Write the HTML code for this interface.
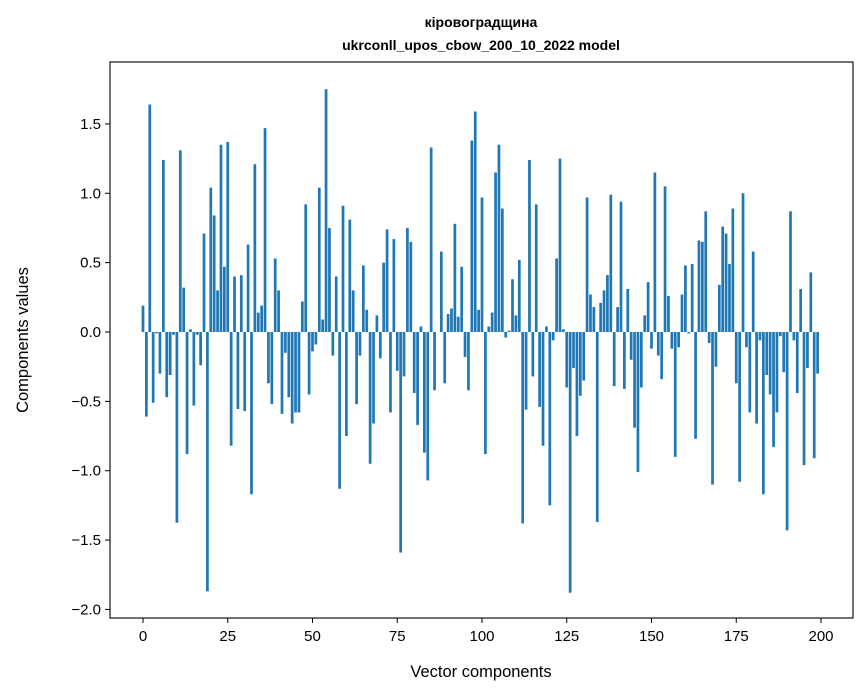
<!DOCTYPE html>
<html><head><meta charset="utf-8"><style>body{margin:0;background:#fff}svg{display:block;font-family:"Liberation Sans","DejaVu Sans",sans-serif}</style></head>
<body>
<svg id="chart" width="867" height="696">
<rect width="867" height="696" fill="#fff"/>
<text x="481" y="27" text-anchor="middle" font-size="14" font-weight="bold">кіровоградщина</text>
<text x="481" y="50" text-anchor="middle" font-size="14" font-weight="bold">ukrconll_upos_cbow_200_10_2022 model</text>
<g id="bars"></g>
<g id="axes"></g>
<text x="481" y="677" text-anchor="middle" font-size="16.5">Vector components</text>
<text transform="translate(28,340) rotate(-90)" text-anchor="middle" font-size="16.5">Components values</text>
</svg>
<script>
const values = [0.19,-0.61,1.64,-0.51,-0.01,-0.30,1.24,-0.47,-0.31,-0.02,
-1.375,1.31,0.32,-0.88,0.02,-0.53,-0.02,-0.24,0.71,-1.87,
1.04,0.84,0.30,1.35,0.47,1.37,-0.82,0.40,-0.555,0.41,
-0.57,0.63,-1.17,1.21,0.14,0.19,1.47,-0.37,-0.52,0.53,
0.30,-0.59,-0.15,-0.47,-0.66,-0.58,-0.58,0.22,0.92,-0.45,
-0.14,-0.09,1.04,0.09,1.75,0.75,-0.17,0.40,-1.13,0.91,
-0.75,0.81,0.30,-0.52,-0.17,0.48,0.16,-0.95,-0.66,0.12,
-0.19,0.50,0.74,-0.58,0.67,-0.28,-1.59,-0.32,0.75,0.65,
-0.44,-0.67,0.04,-0.87,-1.07,1.33,-0.42,0.0,0.58,-0.37,
0.13,0.17,0.78,0.11,0.47,-0.18,-0.42,1.38,1.59,0.16,
0.97,-0.88,0.04,0.14,1.15,1.35,0.89,-0.04,0.01,0.38,
0.12,0.52,-1.38,-0.56,1.24,-0.32,0.92,-0.54,-0.82,0.04,
-1.25,-0.06,0.53,1.25,0.02,-0.40,-1.88,-0.26,-0.75,-0.46,
-0.35,0.97,0.27,0.18,-1.37,0.21,0.30,0.41,0.99,-0.39,
0.18,0.94,-0.41,0.31,-0.20,-0.69,-1.01,-0.40,0.12,0.36,
-0.12,1.15,-0.17,-0.34,1.05,0.26,-0.12,-0.90,-0.11,0.27,
0.48,-0.01,0.49,-0.77,0.66,0.65,0.87,-0.08,-1.10,-0.25,
0.34,0.76,0.71,0.49,0.89,-0.37,-1.08,1.00,-0.11,-0.58,
0.58,-0.66,-0.06,-1.17,-0.31,-0.45,-0.83,-0.58,-0.03,-0.29,
-1.43,0.87,-0.06,-0.44,0.31,-0.96,-0.26,0.43,-0.91,-0.30];
const xTicks = [0,25,50,75,100,125,150,175,200];
const yTicks = [-2.0,-1.5,-1.0,-0.5,0.0,0.5,1.0,1.5];
const L=110,R=853,T=62,B=618;
const xs = v => 143 + v*3.39;
const ys = v => 332 - v*138.7;
const NS='http://www.w3.org/2000/svg';
const bars=document.getElementById('bars'), axes=document.getElementById('axes');
values.forEach((v,i)=>{
  const r=document.createElementNS(NS,'rect');
  
  
  const w=0.8*3.39;
  r.setAttribute('x',xs(i)-w/2);r.setAttribute('width',w);
  r.setAttribute('y',Math.min(ys(v),ys(0)));r.setAttribute('height',Math.abs(ys(v)-ys(0)));
  r.setAttribute('fill','#1f77b4');bars.appendChild(r);
});
const frame=document.createElementNS(NS,'rect');


frame.setAttribute('x',L);frame.setAttribute('y',T);frame.setAttribute('width',R-L);frame.setAttribute('height',B-T);
frame.setAttribute('fill','none');frame.setAttribute('stroke','#000');frame.setAttribute('stroke-width','1.1');axes.appendChild(frame);
xTicks.forEach(t=>{
  const l=document.createElementNS(NS,'line');
  
  
  l.setAttribute('x1',xs(t));l.setAttribute('x2',xs(t));l.setAttribute('y1',B);l.setAttribute('y2',B+5);l.setAttribute('stroke','#000');axes.appendChild(l);
  const tx=document.createElementNS(NS,'text');
  
  
  tx.setAttribute('x',xs(t));tx.setAttribute('y',B+23);tx.setAttribute('text-anchor','middle');tx.setAttribute('font-size','15');tx.textContent=t;axes.appendChild(tx);
});
yTicks.forEach(t=>{
  const l=document.createElementNS(NS,'line');
  
  
  l.setAttribute('x1',L-5);l.setAttribute('x2',L);l.setAttribute('y1',ys(t));l.setAttribute('y2',ys(t));l.setAttribute('stroke','#000');axes.appendChild(l);
  const tx=document.createElementNS(NS,'text');
  
  
  tx.setAttribute('x',L-9);tx.setAttribute('y',ys(t)+5);tx.setAttribute('text-anchor','end');tx.setAttribute('font-size','15');tx.textContent=t.toFixed(1).replace('-','\u2212');axes.appendChild(tx);
});
</script>
</body></html>
